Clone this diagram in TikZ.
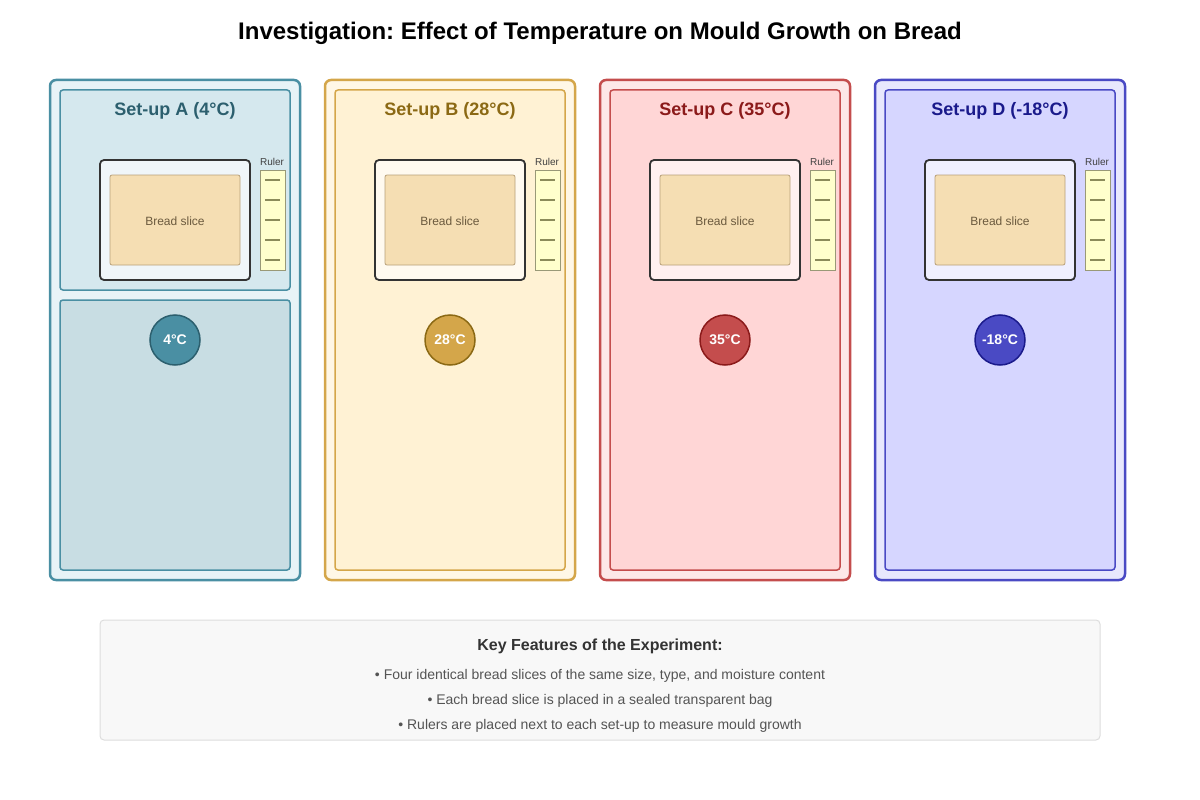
\documentclass[tikz,border=0pt]{standalone}
\usepackage{fontspec}
\setmainfont{Liberation Sans}
\frenchspacing
\definecolor{aS}{HTML}{4A8FA3}\definecolor{aF}{HTML}{E8F3F7}\definecolor{aI}{HTML}{D5E8EE}\definecolor{aL}{HTML}{C8DDE3}\definecolor{aT}{HTML}{2C5F6E}\definecolor{aB}{HTML}{F0F6F9}
\definecolor{bS}{HTML}{D4A64A}\definecolor{bF}{HTML}{FFF7E6}\definecolor{bI}{HTML}{FFF2D4}\definecolor{bT}{HTML}{8B6914}\definecolor{bB}{HTML}{FFFAF0}
\definecolor{cS}{HTML}{C44D4D}\definecolor{cF}{HTML}{FDE8E8}\definecolor{cI}{HTML}{FFD6D6}\definecolor{cT}{HTML}{8B1A1A}\definecolor{cB}{HTML}{FFF0F0}
\definecolor{dS}{HTML}{4A4AC4}\definecolor{dF}{HTML}{E8E8FD}\definecolor{dI}{HTML}{D6D6FF}\definecolor{dT}{HTML}{1A1A8B}\definecolor{dB}{HTML}{F0F0FF}
\definecolor{bread}{HTML}{F5DEB3}\definecolor{breadS}{HTML}{B8A07A}\definecolor{breadT}{HTML}{6B5A3E}
\definecolor{rulerF}{HTML}{FFFFCC}\definecolor{rulerS}{HTML}{999977}\definecolor{tickcol}{HTML}{8B8B5A}
\definecolor{keyF}{HTML}{F8F8F8}\definecolor{keyS}{HTML}{DDDDDD}
\tikzset{
  outerbox/.style={draw=#1S, line width=2.5pt, fill=#1F, rounded corners=6pt},
  innerbox/.style={draw=#1S, line width=1.5pt, fill=#1I, rounded corners=3pt},
  bagbox/.style={draw=black!80, line width=1.8pt, fill=#1B, rounded corners=4pt},
  breadbox/.style={draw=breadS, line width=0.8pt, fill=bread, rounded corners=2pt},
  rulerbox/.style={draw=rulerS, line width=1pt, fill=rulerF},
  rulertick/.style={draw=tickcol, line width=1.5pt},
  tempcirc/.style={circle, draw=#1T, line width=1.5pt, fill=#1S, minimum size=50pt, inner sep=0pt, text=white, font=\bfseries\fontsize{14}{16}\selectfont},
  titletext/.style={font=\bfseries\fontsize{18}{22}\selectfont, text=#1T},
}
\begin{document}
\begin{tikzpicture}[x=1pt,y=-1pt]
\useasboundingbox (0,0) rectangle (1200,800);
\node (title) at (600,33.5) {\bfseries\fontsize{24}{28}\selectfont Investigation: Effect of Temperature on Mould Growth on Bread};
\foreach \k/\lab/\temp [count=\i from 0] in {a/A (4°C)/4°C, b/B (28°C)/28°C, c/C (35°C)/35°C, d/D (-18°C)/-18°C}{
  \begin{scope}[xshift=\i*275]
    \draw[outerbox=\k] (50,80) rectangle (300,580);
    \ifnum\i=0
      \draw[innerbox=\k] (60,90) rectangle (290,290);
      \draw[innerbox=\k, fill=aL] (60,300) rectangle (290,570);
    \else
      \draw[innerbox=\k] (60,90) rectangle (290,570);
    \fi
    \node[titletext=\k] (t\k) at (175,110.5) {Set-up \lab};
    \draw[bagbox=\k] (100,160) rectangle (250,280);
    \draw[breadbox] (110,175) rectangle (240,265);
    \node[text=breadT, font=\fontsize{12}{14}\selectfont] (br\k) at (175,221.5) {Bread slice};
    \draw[rulerbox] (260,170) rectangle (285,270);
    \foreach \y in {180,200,...,260} \draw[rulertick] (265,\y) -- (280,\y);
    \node[text=black!75, font=\fontsize{10}{12}\selectfont] (r\k) at (272,162) {Ruler};
    \node[tempcirc=\k] (c\k) at (175,340) {\raisebox{-1pt}{\temp}};
  \end{scope}
}
\draw[draw=keyS, line width=1pt, fill=keyF, rounded corners=4pt] (100,620) rectangle (1100,740);
\node[text=black!80, font=\bfseries\fontsize{16}{19}\selectfont] (kh) at (600,646) {Key Features of the Experiment:};
\node[text=black!67, font=\fontsize{14}{17}\selectfont] (k1) at (600,676) {• Four identical bread slices of the same size, type, and moisture content};
\node[text=black!67, font=\fontsize{14}{17}\selectfont] (k2) at (600,701) {• Each bread slice is placed in a sealed transparent bag};
\node[text=black!67, font=\fontsize{14}{17}\selectfont] (k3) at (600,726) {• Rulers are placed next to each set-up to measure mould growth};
\end{tikzpicture}
\end{document}
